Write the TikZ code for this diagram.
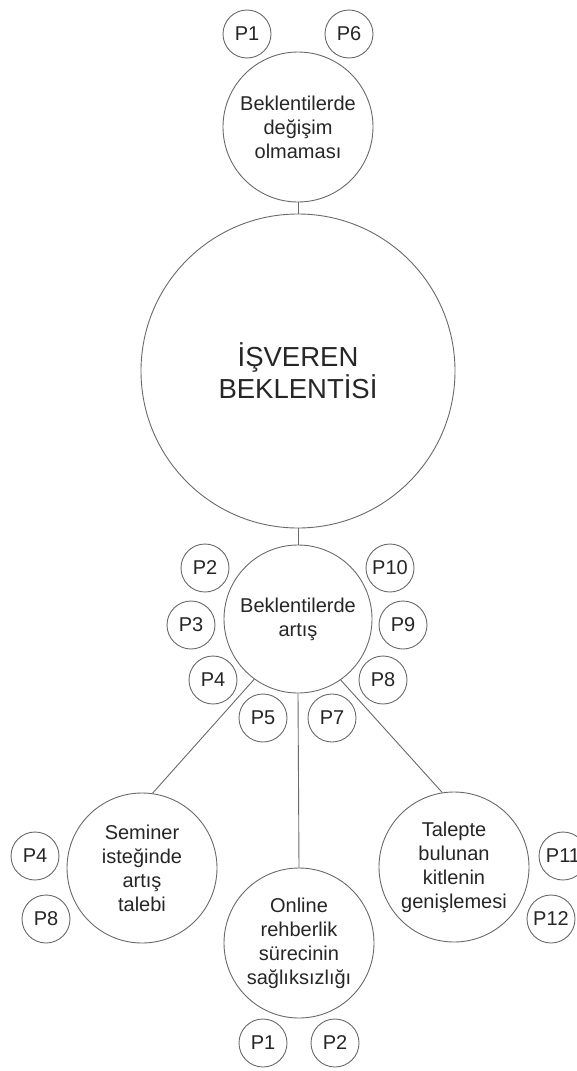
\documentclass[tikz,border=0pt]{standalone}
\usepackage{fontspec}
\setmainfont{Liberation Sans}
\definecolor{linegray}{HTML}{6A6A6A}
\definecolor{txtgray}{HTML}{262626}
\begin{document}
\begin{tikzpicture}[x=1pt,y=-1pt,
  bub/.style={circle,draw=linegray,line width=0.9pt,inner sep=0pt,align=center,
    text=txtgray,font=\fontsize{20}{24}\selectfont},
  pbub/.style={bub,minimum size=48pt},
  mbub/.style={bub,minimum size=150pt},
  conn/.style={draw=linegray,line width=0.9pt}]
\useasboundingbox[fill=white] (0,0) rectangle (577,1071);
% top
\node[pbub] (p1t) at (247,34) {P1};
\node[pbub] (p6t) at (349,34) {P6};
\node[mbub] (top) at (298,127) {Beklentilerde\\değişim\\olmaması};
% big
\node[bub,minimum size=314pt,font=\fontsize{27.5}{32}\selectfont] (big) at (298,371) {İŞVEREN\\BEKLENTİSİ};
% middle
\node[bub,minimum size=148pt] (mid) at (298,619) {Beklentilerde\\artış};
\node[pbub] (p2) at (205,568) {P2};
\node[pbub] (p10) at (390,568) {P10};
\node[pbub] (p3) at (191,625) {P3};
\node[pbub] (p9) at (403,625) {P9};
\node[pbub] (p4) at (213,680) {P4};
\node[pbub] (p8) at (383,680) {P8};
\node[pbub] (p5) at (263,718) {P5};
\node[pbub] (p7) at (332,718) {P7};
% bottom
\node[mbub] (sem) at (142,868) {Seminer\\isteğinde\\artış\\talebi};
\node[mbub] (onl) at (299,943) {Online\\rehberlik\\sürecinin\\sağlıksızlığı};
\node[mbub] (tal) at (454,867) {Talepte\\bulunan\\kitlenin\\genişlemesi};
\node[pbub] (p4l) at (35,856) {P4};
\node[pbub] (p8l) at (46,919) {P8};
\node[pbub] (p1b) at (263,1043) {P1};
\node[pbub] (p2b) at (335,1043) {P2};
\node[pbub] (p11) at (563,856) {P11};
\node[pbub] (p12) at (551,919) {P12};
% connectors
\draw[conn] (top) -- (big);
\draw[conn] (big) -- (mid);
\draw[conn] (mid.south) -- (onl.north);
\draw[conn] (mid.234.5) -- (sem.82);
\draw[conn] (mid.305.5) -- (tal.99);
\end{tikzpicture}
\end{document}
